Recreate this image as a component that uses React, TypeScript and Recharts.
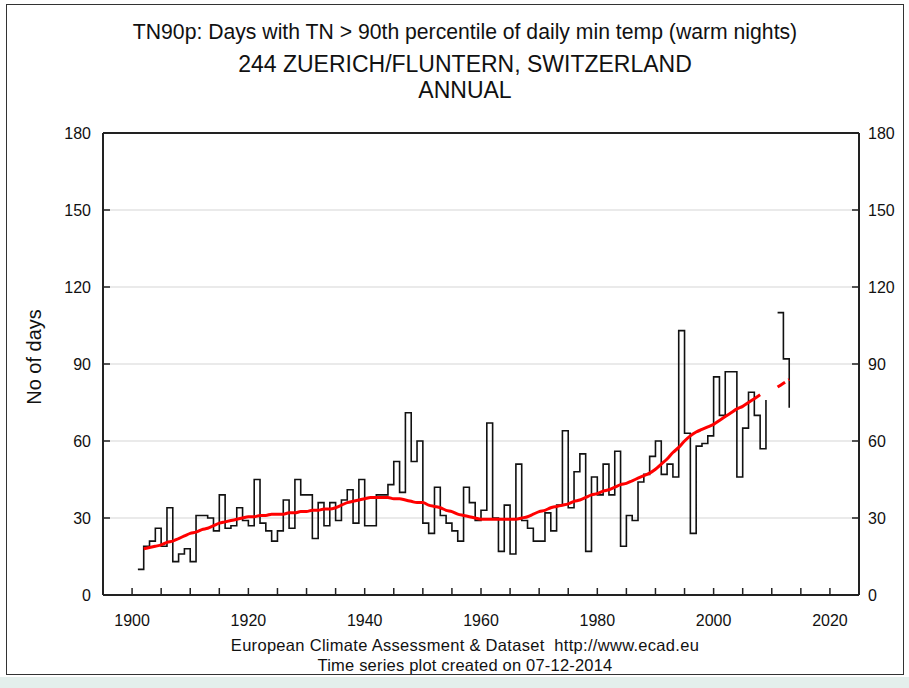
import React from 'react'
import { ComposedChart, Line, XAxis, YAxis, CartesianGrid, ReferenceLine } from 'recharts'

// annual values, first entry is 1901
const FIRST_YEAR = 1901

// TN90p, days per year (null = missing)
const days: (number | null)[] = [
  10, 19, 21, 26, 19, 34, 13, 16, 18, 13, // 1901-1910
  31, 31, 30, 25, 39, 26, 27, 34, 29, 27, // 1911-1920
  45, 28, 25, 21, 25, 37, 26, 45, 39, 39, // 1921-1930
  22, 36, 27, 36, 29, 37, 41, 28, 45, 27, // 1931-1940
  27, 39, 39, 43, 52, 40, 71, 52, 60, 28, // 1941-1950
  24, 42, 31, 28, 25, 21, 42, 36, 29, 33, // 1951-1960
  67, 30, 17, 35, 16, 51, 29, 26, 21, 21, // 1961-1970
  32, 25, 35, 64, 34, 48, 55, 17, 46, 39, // 1971-1980
  51, 39, 56, 19, 31, 29, 44, 47, 54, 60, // 1981-1990
  47, 51, 46, 103, 63, 24, 58, 59, 62, 85, // 1991-2000
  70, 87, 87, 46, 65, 79, 70, 57, 76, null, // 2001-2010
  110, 92, 73, // 2011-2013
]

// smoothed trend (red curve)
const trend: (number | null)[] = [
  null, 18, 18.5, 19, 19.5, 20.5, 21, 22, 23, 24, // 1901-1910
  24.5, 25.5, 26, 27, 28, 28.5, 29, 29.5, 30, 30.5, // 1911-1920
  30.5, 31, 31, 31.5, 31.5, 31.5, 32, 32, 32.5, 32.5, // 1921-1930
  33, 33, 33.5, 33.5, 34, 35, 36, 36.5, 37, 37.5, // 1931-1940
  38, 38, 38, 38, 37.5, 37.5, 37, 36.5, 36, 36, // 1941-1950
  35, 34.5, 34, 33, 32.5, 31.5, 31, 30.5, 30, 29.5, // 1951-1960
  29.5, 29.5, 29.5, 29.5, 29.5, 29.5, 30, 30.5, 31.5, 32.5, // 1961-1970
  33, 34, 34.5, 35, 35.5, 36.5, 37, 38, 39, 39.5, // 1971-1980
  40.5, 41, 42, 43, 43.5, 44.5, 45.5, 46.5, 47.5, 49, // 1981-1990
  51, 53, 55.5, 57.5, 60, 62, 63.5, 64.5, 65.5, 66.5, // 1991-2000
  68, 69.5, 71, 72.5, 73.5, 75, 76.5, 78, null, null, // 2001-2010
  81, 82.5, 84, // 2011-2013
]

const xTicks = [1900, 1905, 1910, 1915, 1920, 1925, 1930, 1935, 1940, 1945, 1950, 1955, 1960, 1965, 1970, 1975, 1980, 1985, 1990, 1995, 2000, 2005, 2010, 2015, 2020]
const yTicks = [0, 30, 60, 90, 120, 150, 180]

const data = days.map((d, i) => {
  const year = FIRST_YEAR + i
  return {
    year,
    days: d,
    trend: year <= 2008 ? trend[i] : null,
    trendEnd: year >= 2011 ? trend[i] : null,
  }
})

const FONT = '"Liberation Sans", Arial, sans-serif'
const PLOT = { left: 103, right: 859, top: 133, bottom: 595 }
const AXIS = '#222'

const XTick = (props: any) => {
  const { x, payload } = props
  const v = payload.value
  return (
    <g>
      <line x1={x} x2={x} y1={PLOT.bottom} y2={PLOT.bottom - 7} stroke={AXIS} strokeWidth={1.5} />
      {v % 20 === 0 && (
        <text x={x} y={626} textAnchor="middle" fontFamily={FONT} fontSize={16} fill="#111">
          {v}
        </text>
      )}
    </g>
  )
}

const LeftTick = (props: any) => {
  const { y, payload } = props
  return (
    <g>
      <line x1={PLOT.left} x2={PLOT.left + 7} y1={y} y2={y} stroke={AXIS} strokeWidth={1.5} />
      <text x={91} y={y + 6} textAnchor="end" fontFamily={FONT} fontSize={16} fill="#111">
        {payload.value}
      </text>
    </g>
  )
}

const RightTick = (props: any) => {
  const { y, payload } = props
  return (
    <g>
      <line x1={PLOT.right - 7} x2={PLOT.right} y1={y} y2={y} stroke={AXIS} strokeWidth={1.5} />
      <text x={868} y={y + 6} textAnchor="start" fontFamily={FONT} fontSize={16} fill="#111">
        {payload.value}
      </text>
    </g>
  )
}

export default function App() {
  return (
    <div style={{ position: 'absolute', left: 0, top: 0, width: 909, height: 688, background: '#fff', overflow: 'hidden' }}>
      {/* outer frame of the original image */}
      <div style={{ position: 'absolute', left: 6, top: 4, width: 898, height: 671, border: '1.5px solid #333', boxSizing: 'border-box' }} />
      <div style={{ position: 'absolute', left: 0, top: 677, width: 909, height: 11, background: '#e4efec' }} />

      <div style={{ position: 'absolute', left: 0, top: 0 }}>
        <ComposedChart
          width={909}
          height={688}
          data={data}
          margin={{ top: PLOT.top, right: 909 - PLOT.right - 40, bottom: 688 - PLOT.bottom - 30, left: PLOT.left - 60 }}
        >
          <CartesianGrid vertical={false} stroke="#d6d6d6" strokeWidth={1.2} yAxisId="left" />
          <XAxis
            dataKey="year"
            type="number"
            domain={[1895, 2025]}
            ticks={xTicks}
            interval={0}
            height={30}
            axisLine={{ stroke: AXIS, strokeWidth: 2 }}
            tickLine={false}
            tick={<XTick />}
          />
          <YAxis
            yAxisId="left"
            type="number"
            domain={[0, 180]}
            ticks={yTicks}
            interval={0}
            width={60}
            axisLine={{ stroke: AXIS, strokeWidth: 2 }}
            tickLine={false}
            tick={<LeftTick />}
          />
          <YAxis
            yAxisId="right"
            orientation="right"
            type="number"
            domain={[0, 180]}
            ticks={yTicks}
            interval={0}
            width={40}
            axisLine={{ stroke: AXIS, strokeWidth: 2 }}
            tickLine={false}
            tick={<RightTick />}
          />
          <ReferenceLine yAxisId="left" y={180} stroke={AXIS} strokeWidth={2} />
          <Line
            yAxisId="left"
            type="stepAfter"
            dataKey="days"
            stroke="#111"
            strokeWidth={1.6}
            dot={false}
            connectNulls={false}
            isAnimationActive={false}
          />
          <Line
            yAxisId="left"
            type="monotone"
            dataKey="trend"
            stroke="#ff0000"
            strokeWidth={3}
            dot={false}
            connectNulls={false}
            isAnimationActive={false}
          />
          <Line
            yAxisId="right"
            type="monotone"
            dataKey="trendEnd"
            stroke="#ff0000"
            strokeWidth={3}
            strokeDasharray="9 4"
            dot={false}
            connectNulls={false}
            isAnimationActive={false}
          />
        </ComposedChart>
      </div>

      {/* titles, axis label and footer */}
      <svg width={909} height={688} style={{ position: 'absolute', left: 0, top: 0, pointerEvents: 'none' }}>
        <g fontFamily={FONT} fill="#111" textAnchor="middle">
          <text x={465} y={39} fontSize={21.2}>TN90p: Days with TN &gt; 90th percentile of daily min temp (warm nights)</text>
          <text x={465} y={72} fontSize={23}>244 ZUERICH/FLUNTERN, SWITZERLAND</text>
          <text x={465} y={98} fontSize={23}>ANNUAL</text>
          <text x={0} y={0} fontSize={20} transform="translate(41 357) rotate(-90)">No of days</text>
          <text x={465} y={651} fontSize={16.5} letterSpacing={0.3}>{'European Climate Assessment & Dataset\u00a0 http://www.ecad.eu'}</text>
          <text x={465} y={671} fontSize={16.5} letterSpacing={0.2}>Time series plot created on 07-12-2014</text>
        </g>
      </svg>
    </div>
  )
}
